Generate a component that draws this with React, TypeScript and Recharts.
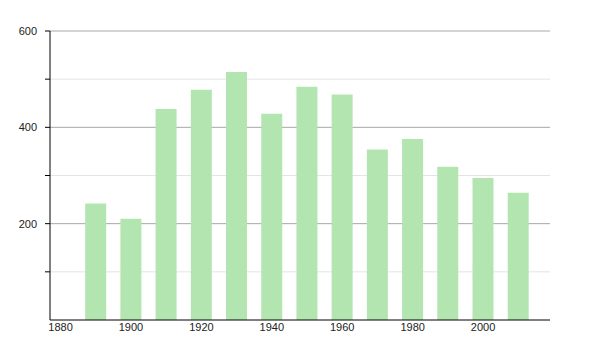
import React from 'react';
import { BarChart, Bar, XAxis, YAxis, CartesianGrid } from 'recharts';

// years and population counts
const years = [1890, 1900, 1910, 1920, 1930, 1940, 1950, 1960, 1970, 1980, 1990, 2000, 2010];
const values = [242, 210, 438, 478, 515, 428, 484, 468, 354, 376, 318, 295, 264];

const xTicks = [1880, 1900, 1920, 1940, 1960, 1980, 2000];
const yTicks = [100, 200, 300, 400, 500, 600];
const minorLines = [100, 300, 500];
const majorLines = [200, 400, 600];

const data = years.map((year, i) => ({ year, value: values[i] }));

const font = { fontFamily: '"Liberation Sans", Arial, sans-serif', fontSize: 11, fill: '#222' };

export default function App() {
  return (
    <div style={{ position: 'absolute', left: 0, top: 0, background: '#fff' }}>
      <BarChart width={600} height={350} data={data} margin={{ top: 31, right: 50, bottom: 0, left: 10 }}>
        <CartesianGrid vertical={false} horizontalValues={minorLines} stroke="#e4e4e4" />
        <CartesianGrid vertical={false} horizontalValues={majorLines} stroke="#a8a8a8" />
        <XAxis
          dataKey="year"
          type="number"
          domain={[1877, 2019]}
          ticks={xTicks}
          interval={0}
          tickLine={false}
          tickSize={0}
          tickMargin={3}
          height={30}
          axisLine={{ stroke: '#000' }}
          tick={font}
        />
        <YAxis
          domain={[0, 600]}
          ticks={yTicks}
          interval={0}
          width={40}
          tickSize={5}
          tickMargin={8}
          tickFormatter={(v) => (v % 200 === 0 ? String(v) : '')}
          axisLine={{ stroke: '#000' }}
          tickLine={{ stroke: '#000' }}
          tick={font}
        />
        <Bar dataKey="value" fill="#b3e5b1" barSize={21} isAnimationActive={false} />
      </BarChart>
    </div>
  );
}
